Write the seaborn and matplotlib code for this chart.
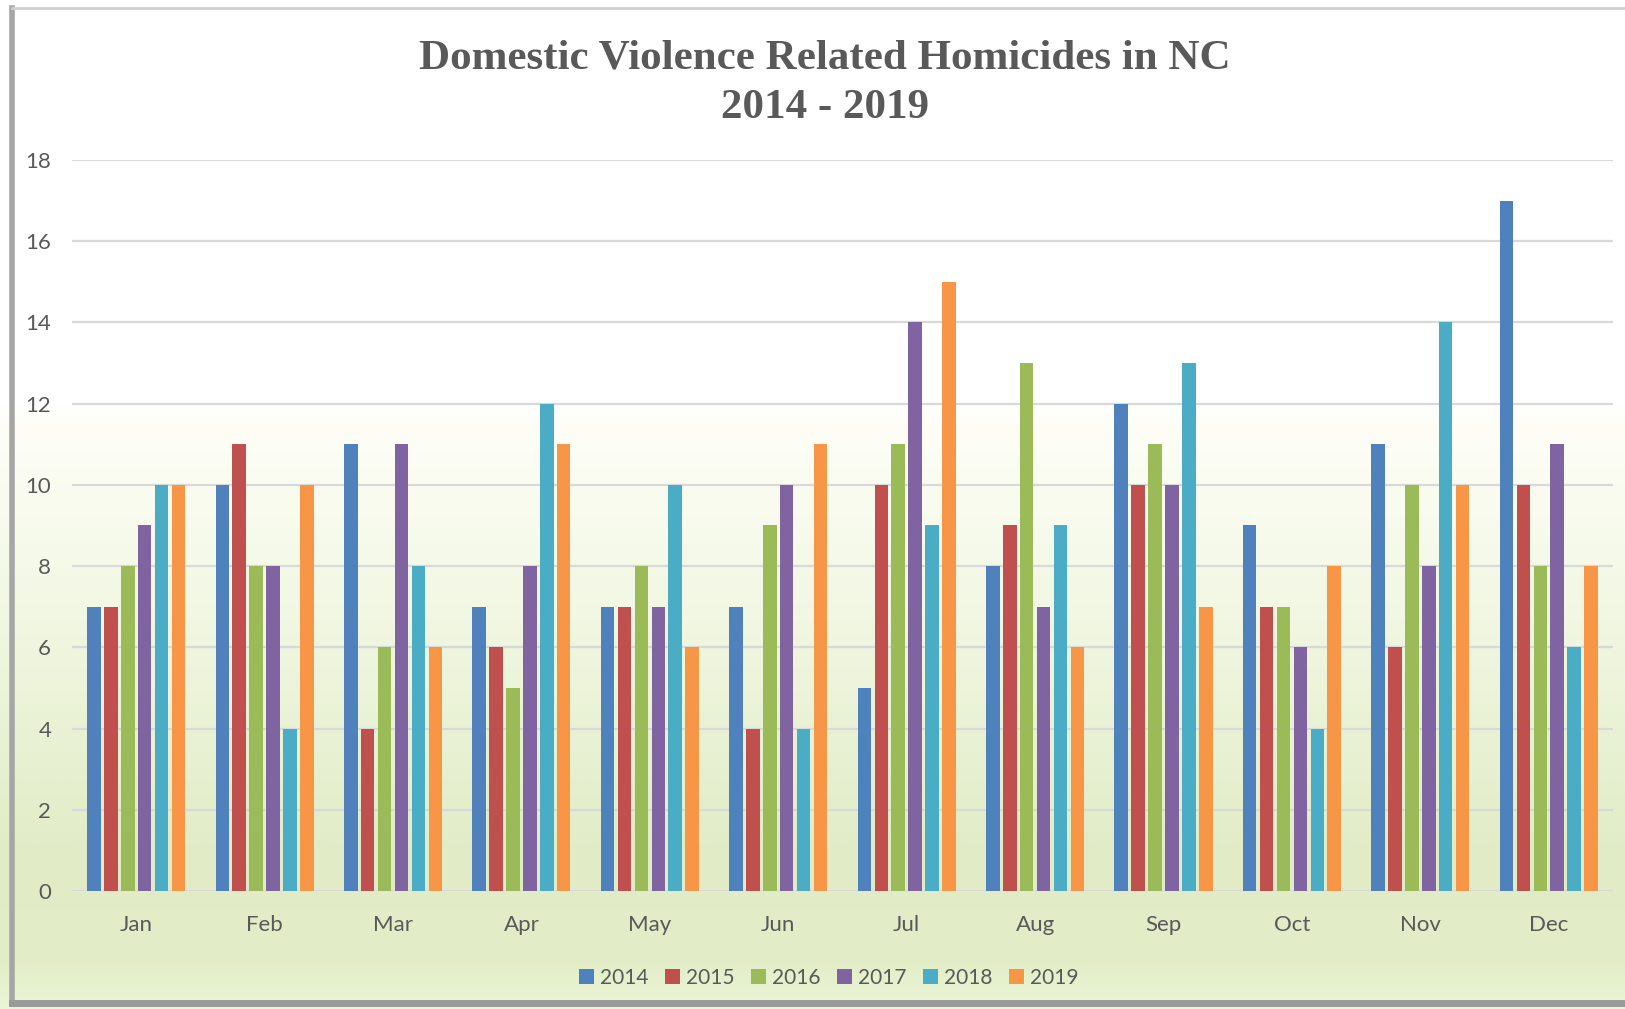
import pandas as pd
import numpy as np
import matplotlib
matplotlib.use('Agg')
import matplotlib.pyplot as plt
from matplotlib.colors import LinearSegmentedColormap
from matplotlib.lines import Line2D
import seaborn as sns

months = ['Jan', 'Feb', 'Mar', 'Apr', 'May', 'Jun', 'Jul', 'Aug', 'Sep', 'Oct', 'Nov', 'Dec']
years = ['2014', '2015', '2016', '2017', '2018', '2019']
y2014 = [7, 10, 11, 7, 7, 7, 5, 8, 12, 9, 11, 17]
y2015 = [7, 11, 4, 6, 7, 4, 10, 9, 10, 7, 6, 10]
y2016 = [8, 8, 6, 5, 8, 9, 11, 13, 11, 7, 10, 8]
y2017 = [9, 8, 11, 8, 7, 10, 14, 7, 10, 6, 8, 11]
y2018 = [10, 4, 8, 12, 10, 4, 9, 9, 13, 4, 14, 6]
y2019 = [10, 10, 6, 11, 6, 11, 15, 6, 7, 8, 10, 8]
colors = ['#4F81BD', '#C0504D', '#9BBB59', '#8064A2', '#4BACC6', '#F79646']

series = [y2014, y2015, y2016, y2017, y2018, y2019]
rows = []
for yr, vals in zip(years, series):
    for m, v in zip(months, vals):
        rows.append({'Month': m, 'Year': yr, 'Homicides': v})
df = pd.DataFrame(rows)

text_col = '#595959'
plt.rcParams['font.family'] = ['Lato', 'DejaVu Sans']

fig = plt.figure(figsize=(16.25, 10.09), dpi=100)

# fondo degradado (blanco arriba, verde claro abajo)
bg = fig.add_axes([0, 0, 1, 1], zorder=-10)
cmap = LinearSegmentedColormap.from_list('bg', [
    (0.0, '#ffffff'), (0.40, '#ffffff'), (0.42, '#fefef7'),
    (0.60, '#f2f8e4'), (0.85, '#e1ecc6'), (0.96, '#e3eec9'), (1.0, '#ebf5d6')])
grad = np.linspace(0, 1, 500).reshape(-1, 1)
bg.imshow(grad, aspect='auto', cmap=cmap, extent=[0, 1, 0, 1], origin='upper')
bg.set_xlim(0, 1)
bg.set_ylim(0, 1)
bg.axis('off')

# marco: izquierda, arriba y abajo (el lado derecho queda recortado)
fig.lines.append(Line2D([0.0075, 0.0075], [0.006, 0.992], transform=fig.transFigure,
                        color='#a6a6a6', linewidth=4))
fig.lines.append(Line2D([0.0075, 1.0], [0.992, 0.992], transform=fig.transFigure,
                        color='#d0d0d0', linewidth=2))
fig.lines.append(Line2D([0.0075, 1.0], [0.006, 0.006], transform=fig.transFigure,
                        color='#9a9a9a', linewidth=5))

ax = fig.add_axes([0.0443, 0.117, 0.9483, 0.7244])
ax.patch.set_alpha(0)
sns.barplot(data=df, x='Month', y='Homicides', hue='Year', palette=colors,
            order=months, hue_order=years, width=0.79, gap=0.2,
            saturation=1, linewidth=0, ax=ax)

ax.set_ylim(0, 18)
ax.set_xlim(-0.5, 11.5)
ax.set_yticks(range(0, 19, 2))
ax.yaxis.grid(True, color='#d9d9d9', linewidth=1.6)
ax.set_axisbelow(True)
for s in ax.spines.values():
    s.set_visible(False)
ax.tick_params(axis='both', length=0, labelsize=16, labelcolor=text_col)
ax.tick_params(axis='y', pad=15)
ax.tick_params(axis='x', pad=17)
ax.set_xlabel('')
ax.set_ylabel('')

ax.legend_.remove()
handles, labels = ax.get_legend_handles_labels()
fig.legend(handles, labels, loc='center', bbox_to_anchor=(0.51, 0.031), ncol=6,
           frameon=False, fontsize=15, labelcolor=text_col, handlelength=0.7,
           handleheight=0.7, handletextpad=0.3, columnspacing=0.8)

fig.text(0.5077, 0.942, 'Domestic Violence Related Homicides in NC', ha='center', va='center',
         fontsize=31, fontweight='bold', color=text_col, family='Liberation Serif')
fig.text(0.5077, 0.893, '2014 - 2019', ha='center', va='center',
         fontsize=31, fontweight='bold', color=text_col, family='Liberation Serif')

fig.savefig('out.png', dpi=100)
